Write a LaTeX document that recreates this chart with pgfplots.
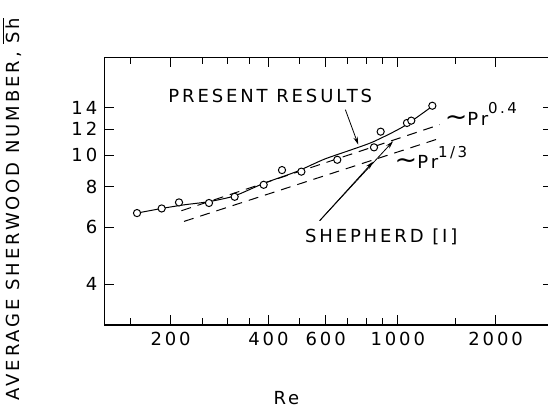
\documentclass[border=0pt]{standalone}
\usepackage{pgfplots}
\pgfplotsset{compat=1.18}
\usepackage{fontspec}
\setmainfont{DejaVu Sans}[LetterSpace=16]
\usetikzlibrary{arrows.meta}
\newcommand{\lbl}{\fontsize{9}{11}\selectfont}
\newcommand{\tld}{\scalebox{1.5}[1.4]{∼}}

\begin{document}
\begin{tikzpicture}
\begin{axis}[
  xmode=log, ymode=log,
  scale only axis,
  width=224.3pt, height=133.9pt,
  xmin=125, xmax=3000, ymin=3, ymax=20,
  xtick={200,400,600,1000,2000},
  xticklabels={200,400,600,1000,2000},
  minor xtick={150,250,300,350,500,700,800,900,1500},
  ytick={4,6,8,10,12,14},
  yticklabels={4,6,8,10,12,14},
  minor ytick={},
  tick align=inside,
  major tick length=5pt, minor tick length=3.5pt,
  tick style={black, line width=0.5pt},
  axis line style={line width=0.6pt},
  ticklabel style={font=\lbl},
  /pgf/number format/assume math mode=true,
  xlabel={Re},
  ylabel={AVERAGE SHERWOOD NUMBER, $\overline{\hbox{\lbl Sh}}$},
  xlabel style={at={(axis description cs:0.406,-0.272)}, anchor=center, font=\lbl},
  ylabel style={at={(axis description cs:-0.206,0.433)}, anchor=center, font=\lbl},
  clip=false,
]
% present results (solid curve)
\addplot[black, line width=0.5pt, smooth, tension=0.4] coordinates {
  (157.6,6.63) (187.7,6.85) (220.4,7.03) (262.6,7.19) (314.8,7.49)
  (387.6,8.19) (487.4,8.89) (594.0,9.71) (719.4,10.38) (840.9,10.99)
  (1038,12.22) (1283,14.18)
};
% Pr^0.4 and Pr^1/3 lines
\addplot[black, line width=0.5pt, dash pattern=on 5pt off 3.5pt] coordinates {(215.8,6.74) (1345,12.4)};
\addplot[black, line width=0.5pt, dash pattern=on 5pt off 3.5pt] coordinates {(219.9,6.25) (1361,11.30)};
% measured points
\addplot[only marks, mark=*, mark size=1.8pt, mark options={fill=white, draw=black, line width=0.5pt}] coordinates {
  (157.6,6.63) (187.7,6.85) (212.2,7.15) (262.4,7.12) (314.7,7.44)
  (386.6,8.10) (440.2,8.99) (504.9,8.89) (651.3,9.67) (844.6,10.56)
  (885.5,11.80) (1067,12.55) (1100,12.76) (1277,14.18)
};
\node[font=\lbl, inner sep=0] at (axis cs:405,15.2) {PRESENT RESULTS};
\draw[-{Stealth[length=4pt,width=2.2pt]}, line width=0.4pt] (axis cs:689.6,13.79) -- (axis cs:755.6,10.76);
\node[font=\lbl, inner sep=0] at (axis cs:889,5.61) {SHEPHERD [I]};
\draw[-{Stealth[length=4pt,width=2.2pt]}, line width=0.4pt] (axis cs:574.7,6.28) -- (axis cs:839.5,9.54);
\draw[-{Stealth[length=4pt,width=2.2pt]}, line width=0.4pt] (axis cs:574.7,6.28) -- (axis cs:967.4,11.03);
\node[font=\lbl, inner sep=0, anchor=base west] at (axis cs:1391,12.31) {\tld Pr\raisebox{1.2ex}{\fontsize{7.5}{8}\selectfont 0.4}};
\node[font=\lbl, inner sep=0, anchor=base west] at (axis cs:975.6,9.08) {\tld Pr\raisebox{1.1ex}{\fontsize{7.5}{8}\selectfont 1/3}};
\end{axis}
\pgfresetboundingbox
\path[use as bounding box] ([shift={(-52.15pt,-42pt)}]current axis.south west) rectangle ([shift={(221.85pt,162.5pt)}]current axis.south west);
\end{tikzpicture}
\end{document}
